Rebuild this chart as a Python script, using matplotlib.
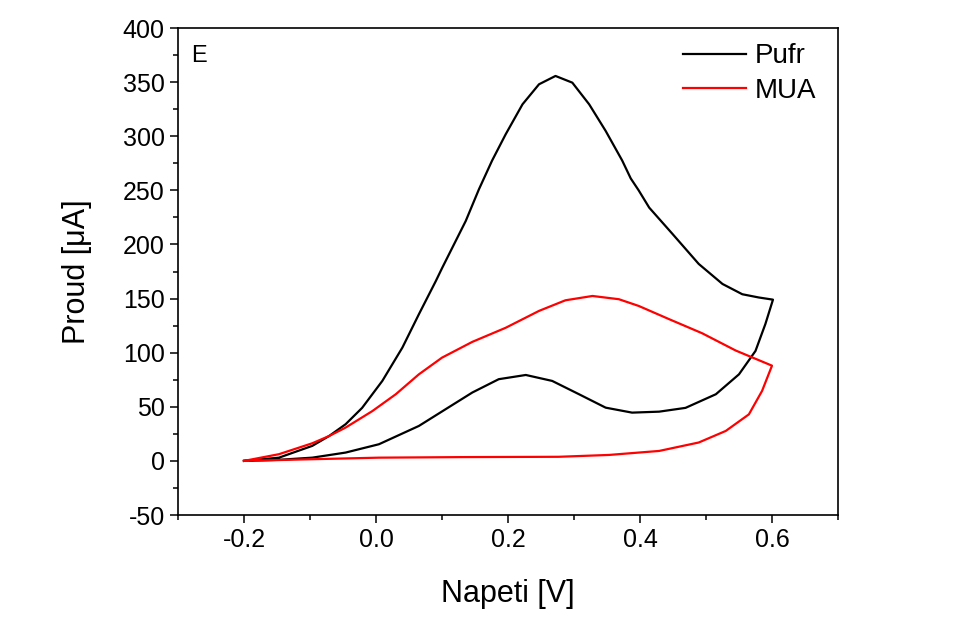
import numpy as np
import matplotlib.pyplot as plt

plt.rcParams['font.family'] = ['Liberation Sans', 'DejaVu Sans']
plt.rcParams['axes.unicode_minus'] = False

# Pufr loop (upper branch -0.2 -> 0.6, then lower branch back)
pufr_x = [-0.2, -0.147, -0.0965, -0.071, -0.046, -0.021, 0.0096, 0.040, 0.065, 0.0905,
          0.1005, 0.136, 0.156, 0.176, 0.1965, 0.222, 0.247, 0.272, 0.2975, 0.323,
          0.348, 0.373, 0.386, 0.398, 0.414, 0.449, 0.489, 0.525, 0.555, 0.58, 0.6015,
          0.59, 0.575, 0.55, 0.515, 0.469, 0.429, 0.388, 0.348, 0.3076, 0.267,
          0.227, 0.186, 0.146, 0.1056, 0.065, 0.0045, -0.046, -0.0965, -0.147, -0.2]
pufr_y = [0, 3, 13.9, 23, 33.9, 49, 73.9, 104.7, 135.5, 166,
          178.6, 221.7, 251, 277.6, 301.8, 329.5, 348, 355.7, 349.5, 329.5,
          304.9, 277.6, 261, 250, 234, 209.9, 182, 163.5, 154, 151, 149,
          126.5, 101.6, 80, 61.6, 49, 45.5, 44.6, 49.2, 61.6, 73.9,
          79.4, 75.5, 63.2, 47.8, 32.3, 15.4, 7.7, 3, 1, 0]

# MUA loop
mua_x = [-0.2, -0.147, -0.0965, -0.071, -0.046, -0.0056, 0.030, 0.065, 0.1, 0.146,
         0.1965, 0.247, 0.287, 0.328, 0.368, 0.398, 0.444, 0.494, 0.545, 0.6,
         0.585, 0.565, 0.53, 0.489, 0.429, 0.353, 0.277, 0.13, 0.0045, -0.1, -0.2]
mua_y = [0, 6.2, 16.3, 23, 30.8, 46, 61.6, 80, 95.4, 110,
         123, 138.6, 148.4, 152.4, 149.4, 143.2, 131, 118, 102, 88,
         64.7, 43, 27.7, 17, 9.2, 5.5, 3.8, 3.5, 3, 1.5, 0]

fig = plt.figure(figsize=(9.6, 6.17), dpi=100)
ax = fig.add_axes([0.1854, 0.1653, 0.6875, 0.7893])

ax.plot(pufr_x, pufr_y, color='black', lw=1.6, label='Pufr')
ax.plot(mua_x, mua_y, color='red', lw=1.6, label='MUA')

ax.set_xlim(-0.3, 0.7)
ax.set_ylim(-50, 400)
ax.set_xticks([-0.2, 0.0, 0.2, 0.4, 0.6])
ax.set_xticklabels(['-0.2', '0.0', '0.2', '0.4', '0.6'])
ax.set_xticks(np.arange(-0.3, 0.71, 0.1), minor=True)
ax.set_yticks(np.arange(-50, 401, 50))
ax.set_yticks(np.arange(-50, 401, 25), minor=True)
ax.tick_params(which='major', direction='out', length=6, width=1.1, labelsize=18)
ax.tick_params(which='minor', direction='out', length=3.5, width=1.1)
for s in ax.spines.values():
    s.set_linewidth(1.2)

ax.set_xlabel('Napeti [V]', fontsize=22, labelpad=19)
ax.set_ylabel('Proud [\u03bcA]', fontsize=22, labelpad=22)

ax.text(0.02, 0.965, 'E', transform=ax.transAxes, fontsize=17, va='top', ha='left')

ax.legend(loc='upper right', bbox_to_anchor=(1.005, 1.02), frameon=False, fontsize=20,
          handlelength=2.3, handletextpad=0.3, labelspacing=0.3)

fig.savefig('out.png', dpi=100)
